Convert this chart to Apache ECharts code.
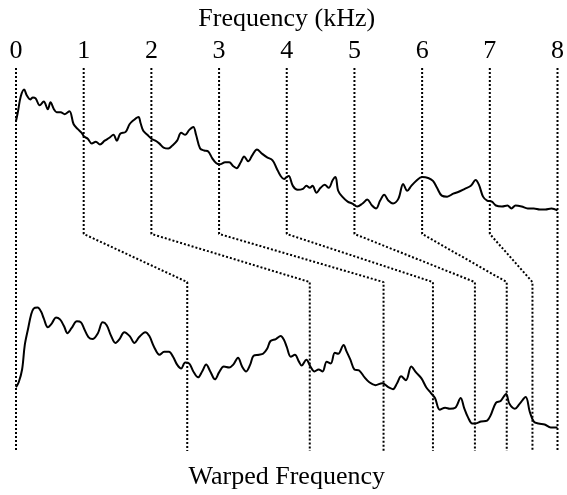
<!DOCTYPE html>
<html>
<head>
<meta charset="utf-8">
<script src="https://cdn.jsdelivr.net/npm/echarts@6/dist/echarts.min.js"></script>
<style>html,body{margin:0;padding:0;background:#fff;}#c{width:567px;height:495px;}</style>
</head>
<body>
<div id="c"></div>
<script>
// Frequency tick labels (kHz)
var freqTicks = [0, 1, 2, 3, 4, 5, 6, 7, 8];
// Position of each frequency on the warped axis (in same display units)
var warpedPos = [0, 2.53, 4.34, 5.43, 6.16, 6.78, 7.25, 7.63, 8];
// Level scale (arbitrary): link geometry levels
var linkTop = 390, linkBendHigh = 221, linkBendLow = 172, linkBottom = 0;

// Original spectrum: [frequency kHz, level]
var spectrum = [
[0.00,336],[0.03,346],[0.07,361],[0.12,368],[0.16,362],[0.21,358],[0.25,360],[0.29,359],[0.35,352],[0.41,356],
[0.47,348],[0.51,355],[0.56,348],[0.60,345],[0.66,345],[0.72,343],[0.79,346],[0.85,333],[0.91,328],[0.97,324],
[1.01,320],[1.06,318],[1.12,313],[1.18,315],[1.24,312],[1.31,316],[1.38,319],[1.44,322],[1.49,316],[1.54,323],
[1.62,325],[1.68,333],[1.74,337],[1.81,340],[1.84,334],[1.88,326],[1.94,322],[2.00,318],[2.06,316],[2.12,313],
[2.18,309],[2.25,308],[2.31,311],[2.38,316],[2.44,324],[2.50,322],[2.56,327],[2.62,330],[2.66,322],[2.72,308],
[2.78,306],[2.84,305],[2.90,298],[2.96,293],[3.01,292],[3.09,294],[3.15,294],[3.21,290],[3.26,288],[3.32,294],
[3.37,300],[3.43,295],[3.49,301],[3.56,307],[3.63,303],[3.71,299],[3.79,296],[3.85,288],[3.91,280],[3.96,277],
[4.00,279],[4.03,280],[4.09,270],[4.16,266],[4.24,267],[4.29,270],[4.34,268],[4.38,270],[4.44,263],[4.50,268],
[4.56,271],[4.62,268],[4.68,276],[4.72,279],[4.76,265],[4.82,259],[4.90,254],[4.97,252],[5.04,249],[5.12,252],
[5.19,256],[5.26,250],[5.32,247],[5.38,255],[5.44,261],[5.50,255],[5.57,252],[5.65,257],[5.72,272],[5.78,265],
[5.84,270],[5.91,275],[6.00,279],[6.09,278],[6.16,275],[6.22,268],[6.29,260],[6.37,259],[6.46,262],[6.54,264],
[6.63,267],[6.72,270],[6.79,276],[6.84,271],[6.90,259],[6.96,255],[7.03,254],[7.09,250],[7.18,249],[7.26,250],
[7.32,247],[7.38,250],[7.47,249],[7.56,247],[7.65,247],[7.74,246],[7.82,246],[7.91,247],[8.00,245]
];

// Warped spectrum: [warped position, level]
var warpedSpectrum = [
[0.00,65],[0.04,70],[0.09,83],[0.13,108],[0.18,125],[0.22,138],[0.26,145],[0.32,146],[0.37,142],[0.41,135],
[0.47,126],[0.53,130],[0.59,136],[0.65,134],[0.71,127],[0.76,120],[0.82,125],[0.90,132],[0.96,131],[1.01,124],
[1.07,116],[1.13,114],[1.21,120],[1.28,131],[1.34,128],[1.40,118],[1.47,110],[1.53,114],[1.60,121],[1.68,117],
[1.75,110],[1.82,116],[1.91,121],[1.97,117],[2.04,106],[2.12,98],[2.19,101],[2.26,101],[2.32,96],[2.38,88],
[2.44,84],[2.50,90],[2.56,89],[2.62,81],[2.69,75],[2.75,81],[2.81,88],[2.87,81],[2.94,73],[3.00,80],
[3.07,86],[3.15,85],[3.21,88],[3.28,95],[3.34,86],[3.40,81],[3.46,88],[3.51,97],[3.59,98],[3.65,99],
[3.71,104],[3.76,112],[3.84,114],[3.91,117],[3.96,113],[4.00,106],[4.06,96],[4.12,98],[4.18,91],[4.22,87],
[4.29,93],[4.35,86],[4.41,81],[4.47,83],[4.53,81],[4.59,91],[4.65,89],[4.71,100],[4.76,99],[4.84,108],
[4.88,102],[4.94,93],[5.00,83],[5.07,82],[5.15,75],[5.22,70],[5.31,67],[5.41,69],[5.50,65],[5.57,63],
[5.63,69],[5.69,76],[5.76,72],[5.84,86],[5.91,80],[5.99,74],[6.06,65],[6.13,59],[6.19,54],[6.26,42],
[6.34,44],[6.41,43],[6.49,44],[6.57,54],[6.62,44],[6.68,34],[6.74,28],[6.79,28],[6.87,30],[6.96,31],
[7.01,36],[7.09,49],[7.16,51],[7.24,58],[7.29,48],[7.37,43],[7.44,48],[7.53,55],[7.59,40],[7.65,30],
[7.72,28],[7.81,27],[7.90,24],[8.00,24]
];

var fontFam = '"Liberation Serif","Times New Roman",serif';
var chart = echarts.init(document.getElementById('c'), null, {renderer: 'canvas'});

var series = [];
for (var i = 0; i < freqTicks.length; i++) {
  series.push({
    type: 'line', silent: true, symbol: 'none', animation: false,
    lineStyle: {color: '#000', width: 2, type: [2, 2]},
    data: [[freqTicks[i], linkTop], [freqTicks[i], linkBendHigh], [warpedPos[i], linkBendLow], [warpedPos[i], linkBottom]]
  });
}
series.push({
  type: 'line', symbol: 'none', animation: false, smooth: 0.35,
  lineStyle: {color: '#000', width: 2}, data: spectrum
});
series.push({
  type: 'line', symbol: 'none', animation: false, smooth: 0.35,
  lineStyle: {color: '#000', width: 2}, data: warpedSpectrum
});

chart.setOption({
  animation: false,
  backgroundColor: '#fff',
  grid: {left: 16, right: 7, top: 68, bottom: 37, containLabel: false},
  xAxis: [{
    type: 'value', position: 'top', min: 0, max: 8, interval: 1,
    name: 'Frequency (kHz)', nameLocation: 'middle', nameGap: 36,
    nameTextStyle: {fontFamily: fontFam, fontSize: 26, color: '#000'},
    axisLine: {show: false}, axisTick: {show: false}, splitLine: {show: false},
    axisLabel: {fontFamily: fontFam, fontSize: 26, color: '#000', margin: 4}
  }, {
    type: 'value', position: 'bottom', min: 0, max: 8, interval: 1,
    name: 'Warped Frequency', nameLocation: 'middle', nameGap: 13,
    nameTextStyle: {fontFamily: fontFam, fontSize: 26, color: '#000'},
    axisLine: {show: false}, axisTick: {show: false}, splitLine: {show: false},
    axisLabel: {show: false}
  }],
  yAxis: {type: 'value', min: 0, max: 390, show: false},
  series: series
});
</script>
</body>
</html>
